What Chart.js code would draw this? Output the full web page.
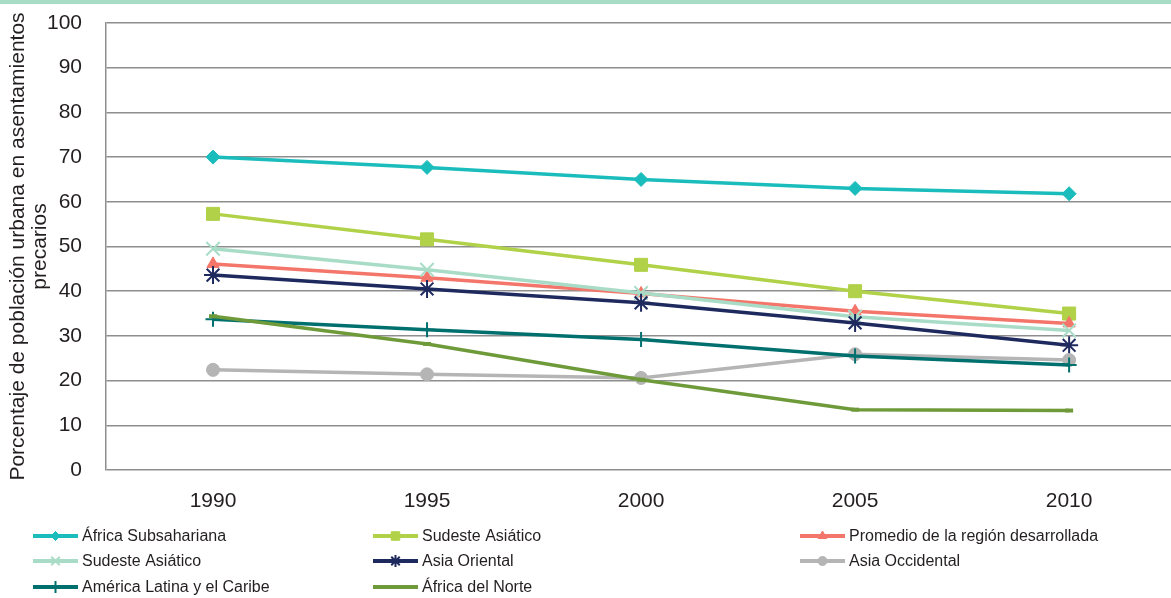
<!DOCTYPE html>
<html>
<head>
<meta charset="utf-8">
<script src="https://cdn.jsdelivr.net/npm/chart.js@4.4.1/dist/chart.umd.min.js"></script>
<style>
  html, body { margin: 0; padding: 0; background: #ffffff; overflow: hidden; }
  #wrap { width: 1171px; height: 598px; position: relative; }
</style>
</head>
<body>
<div id="wrap"><canvas id="c" width="1171" height="598"></canvas></div>
<script>
// Años del eje horizontal
const years = [1990, 1995, 2000, 2005, 2010];

// Porcentaje de población urbana en asentamientos precarios, por región
const africaSubsahariana   = [70.0, 67.7, 65.0, 63.0, 61.8];
const sudesteAsiaticoA     = [57.3, 51.6, 45.9, 40.0, 35.0];
const promedioDesarrollada = [46.1, 43.0, 39.5, 35.5, 32.8];
const sudesteAsiaticoB     = [49.5, 44.8, 39.6, 34.3, 31.2];
const asiaOriental         = [43.6, 40.5, 37.4, 32.9, 27.9];
const asiaOccidental       = [22.4, 21.4, 20.6, 25.9, 24.6];
const americaLatina        = [33.7, 31.4, 29.2, 25.5, 23.5];
const africaNorte          = [34.4, 28.2, 20.2, 13.5, 13.3];

const seriesNames = [
  'África Subsahariana',
  'Sudeste Asiático',
  'Promedio de la región desarrollada',
  'Sudeste Asiático',
  'Asia Oriental',
  'Asia Occidental',
  'América Latina y el Caribe',
  'África del Norte'
];
const seriesValues = [
  africaSubsahariana, sudesteAsiaticoA, promedioDesarrollada, sudesteAsiaticoB,
  asiaOriental, asiaOccidental, americaLatina, africaNorte
];

const yAxisTitle = ['Porcentaje de población urbana en asentamientos', 'precarios'];

// Estilo de cada serie: color, marcador, tamaño del marcador
const styles = [
  { color: '#1bbcbc', point: 'rectRot',  r: 7,   bw: 1, lr: 4.5 },
  { color: '#b0d148', point: 'rect',     r: 9.2, bw: 1, lr: 6 },
  { color: '#f4766a', point: 'triangle', r: 7,   bw: 1, lr: 5 },
  { color: '#a9dcc6', point: 'crossRot', r: 9.5, bw: 2, lr: 6 },
  { color: '#1e2a5e', point: 'star',     r: 9,   bw: 2, lr: 6 },
  { color: '#b5b5b5', point: 'circle',   r: 6.5, bw: 1, lr: 4.5 },
  { color: '#00706f', point: 'cross',    r: 7.5, bw: 2, lr: 6 },
  { color: '#6f9a3a', point: 'line',     r: 4,   bw: 4, lr: 4 }
];

const FONT = '"Liberation Sans", Arial, Helvetica, sans-serif';
const TEXT = '#231f20';
const GRID = '#8e8e8e';

const datasets = seriesValues.map((vals, i) => ({
  label: seriesNames[i],
  data: years.map((yr, k) => ({ x: yr, y: vals[k] })),
  borderColor: styles[i].color,
  backgroundColor: styles[i].color,
  borderWidth: 3.5,
  pointStyle: styles[i].point,
  pointRadius: styles[i].r,
  pointHoverRadius: styles[i].r,
  pointBackgroundColor: styles[i].color,
  pointBorderColor: styles[i].color,
  pointBorderWidth: styles[i].bw,
  tension: 0,
  fill: false,
  order: -i
}));

// Sin márgenes extra por el desborde de las etiquetas
function noOverhang(s) {
  s.paddingTop = 0;
  s.paddingBottom = 0;
  s.paddingLeft = 0;
  s.paddingRight = 0;
}

// Franja superior y leyenda en tres columnas
const decorPlugin = {
  id: 'decor',
  beforeDraw(chart) {
    const ctx = chart.ctx;
    ctx.save();
    ctx.fillStyle = '#ffffff';
    ctx.fillRect(0, 0, chart.width, chart.height);
    ctx.fillStyle = '#a8dcc4';
    ctx.fillRect(0, 0, chart.width, 4);
    ctx.restore();
  },
  afterDraw(chart) {
    const ctx = chart.ctx;
    const colX = [33, 373, 800];
    const rowY = [536, 561, 587];
    ctx.save();
    seriesNames.forEach((name, i) => {
      const st = styles[i];
      const x0 = colX[i % 3];
      const y = rowY[Math.floor(i / 3)];
      ctx.strokeStyle = st.color;
      ctx.fillStyle = st.color;
      ctx.lineWidth = 4;
      ctx.beginPath();
      ctx.moveTo(x0, y);
      ctx.lineTo(x0 + 45, y);
      ctx.stroke();
      if (Chart.helpers && Chart.helpers.drawPoint) {
        ctx.lineWidth = st.point === 'line' ? 4 : (st.bw > 1 ? 2 : 1);
        Chart.helpers.drawPoint(ctx, { pointStyle: st.point, rotation: 0, radius: st.lr, borderWidth: ctx.lineWidth }, x0 + 22.5, y);
      }
      ctx.fillStyle = TEXT;
      ctx.font = '16px ' + FONT;
      ctx.textAlign = 'left';
      ctx.textBaseline = 'middle';
      ctx.fillText(name, x0 + 49, y + 1);
    });
    ctx.restore();
  }
};

new Chart(document.getElementById('c'), {
  type: 'line',
  data: { datasets },
  plugins: [decorPlugin],
  options: {
    responsive: false,
    animation: false,
    devicePixelRatio: 1,
    layout: { autoPadding: false, padding: { top: 23, right: 0, bottom: 0, left: 0 } },
    plugins: { legend: { display: false }, tooltip: { enabled: false } },
    scales: {
      x: {
        type: 'linear',
        min: 1987.5,
        max: 2012.38,
        afterBuildTicks: s => { s.ticks = years.map(v => ({ value: v })); },
        afterFit: s => { s.height = 128; noOverhang(s); },
        grid: { display: false, drawTicks: false },
        border: { display: false },
        ticks: {
          autoSkip: false,
          maxRotation: 0,
          padding: 19,
          color: TEXT,
          font: { family: FONT, size: 21 },
          callback: v => String(v)
        }
      },
      y: {
        min: 0,
        max: 100,
        afterFit: s => { s.width = 106; noOverhang(s); },
        grid: { color: GRID, lineWidth: 1.5, drawTicks: false },
        border: { display: true, color: GRID, width: 1.5 },
        ticks: {
          stepSize: 10,
          padding: 24,
          color: TEXT,
          font: { family: FONT, size: 21 }
        },
        title: {
          display: true,
          text: yAxisTitle,
          color: TEXT,
          font: { family: FONT, size: 21, lineHeight: 1.05 },
          padding: { top: 7, bottom: 0 }
        }
      }
    }
  }
});
</script>
</body>
</html>
